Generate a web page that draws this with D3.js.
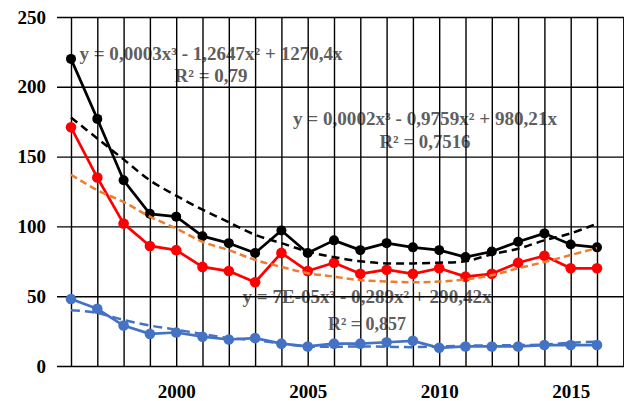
<!DOCTYPE html>
<html>
<head>
<meta charset="utf-8">
<script src="https://cdn.jsdelivr.net/npm/d3@7"></script>
<style>
  html, body { margin: 0; padding: 0; background: #fff; }
  svg { display: block; }
</style>
</head>
<body>
<svg id="chart" width="624" height="401"></svg>
<script>
// ---- data ----
const years = [1996,1997,1998,1999,2000,2001,2002,2003,2004,2005,2006,2007,2008,2009,2010,2011,2012,2013,2014,2015,2016];
const seriesBlack = [220,177,133,109,107,93,88,81,97,81,90,83,88,85,83,78,82,89,95,87,85];
const seriesRed   = [171,135,102,86,83,71,68,60,81,68,74,66,69,66,70,64,66,74,79,70,70];
const seriesBlue  = [48,41,29,23,24,21,19,20,16,14,16,16,17,18,13,14,14,14,15,15,15];
const trendBlack  = [178,163,148,133,122,112,103,94,88,82,78,75,73.5,73.5,74,75,80,84,90,95,102];
const trendRed    = [137,126,117.5,107,98.5,89,83,76,71,66.5,64,61.5,60.5,60,60.5,62,65,70,74.5,79.5,84.5];
const trendBlue   = [40,38,33,29,26,23,20,18.5,16,14,13.8,14,13.8,13.5,14,14.5,14.8,15,15.3,16.7,17.5];
const yTicks = [0,50,100,150,200,250];
const xGridYears = d3.range(1996, 2018);
const xLabelYears = [2000,2005,2010,2015];
const equations = [
  {eq: "y = 0,0003x³ - 1,2647x² + 1270,4x", r2: "R² = 0,79"},
  {eq: "y = 0,0002x³ - 0,9759x² + 980,21x", r2: "R² = 0,7516"},
  {eq: "y = 7E-05x³ - 0,289x² + 290,42x", r2: "R² = 0,857"}
];

// ---- layout ----
const svg = d3.select("#chart");
const L = 57, R = 624, T = 17, B = 366;
const x = d3.scaleLinear().domain([1996, 2016]).range([71, 597]);
const y = d3.scaleLinear().domain([0, 250]).range([B, T]);
const font = "'Liberation Serif', 'Times New Roman', serif";

// equation labels (drawn under the grid, as in the reference)
const eqLayout = [
  {cx: 211, y1: 60, y2: 82, w1: 263, w2: 73},
  {cx: 425, y1: 125, y2: 148, w1: 264, w2: 91},
  {cx: 367, y1: 303, y2: 330, w1: 249, w2: 78}
];
const eqG = svg.append("g")
  .attr("font-family", font).attr("font-weight", "bold")
  .attr("font-size", 18).attr("fill", "#5e5e5e").attr("text-anchor", "middle");
equations.forEach((e, i) => {
  const p = eqLayout[i];
  eqG.append("text").attr("x", p.cx).attr("y", p.y1)
    .attr("textLength", p.w1).attr("lengthAdjust", "spacingAndGlyphs").text(e.eq);
  eqG.append("text").attr("x", p.cx).attr("y", p.y2)
    .attr("textLength", p.w2).attr("lengthAdjust", "spacingAndGlyphs").text(e.r2);
});

// horizontal grid + y labels
const yAxis = d3.axisLeft(y).tickValues(yTicks).tickSize(-(R - L)).tickPadding(11)
  .tickFormat(d3.format("d"));
const gy = svg.append("g").attr("transform", `translate(${L},0)`).call(yAxis);
gy.select(".domain").remove();
gy.selectAll(".tick line").attr("stroke", "#000").attr("stroke-width", 1.4);
gy.selectAll(".tick text").attr("font-family", font).attr("font-weight", "bold")
  .attr("font-size", 19).attr("fill", "#000");

// vertical grid
const xGrid = d3.axisBottom(x).tickValues(xGridYears).tickSize(-(B - T)).tickFormat("");
const gx = svg.append("g").attr("transform", `translate(0,${B})`).call(xGrid);
gx.select(".domain").remove();
gx.selectAll(".tick line").attr("stroke", "#000").attr("stroke-width", 1.4);

// x labels
const xLab = d3.axisBottom(x).tickValues(xLabelYears).tickSize(0).tickPadding(19)
  .tickFormat(d3.format("d"));
const gxl = svg.append("g").attr("transform", `translate(0,${B})`).call(xLab);
gxl.select(".domain").remove();
gxl.selectAll(".tick text").attr("font-family", font).attr("font-weight", "bold")
  .attr("font-size", 19).attr("fill", "#000");

// lines
const line = d3.line().x((d, i) => x(years[i])).y(d => y(d));
const smooth = d3.line().x((d, i) => x(years[i])).y(d => y(d)).curve(d3.curveCatmullRom);

const series = [
  {vals: seriesBlack, trend: trendBlack, color: "#000000", tcolor: "#000000", r: 5, dash: "8,5"},
  {vals: seriesRed, trend: trendRed, color: "#ff0000", tcolor: "#ed7d31", r: 5.3, dash: "7,4"},
  {vals: seriesBlue, trend: trendBlue, color: "#4472c4", tcolor: "#4472c4", r: 5.3, dash: "9,5"}
];

series.forEach(s => {
  svg.append("path").datum(s.vals).attr("d", line)
    .attr("fill", "none").attr("stroke", s.color).attr("stroke-width", 2.7)
    .attr("stroke-linejoin", "round");
  svg.append("g").selectAll("circle").data(s.vals).join("circle")
    .attr("cx", (d, i) => x(years[i])).attr("cy", d => y(d))
    .attr("r", s.r).attr("fill", s.color);
});
series.forEach(s => {
  svg.append("path").datum(s.trend).attr("d", smooth)
    .attr("fill", "none").attr("stroke", s.tcolor).attr("stroke-width", 2.5)
    .attr("stroke-dasharray", s.dash);
});
</script>
</body>
</html>
